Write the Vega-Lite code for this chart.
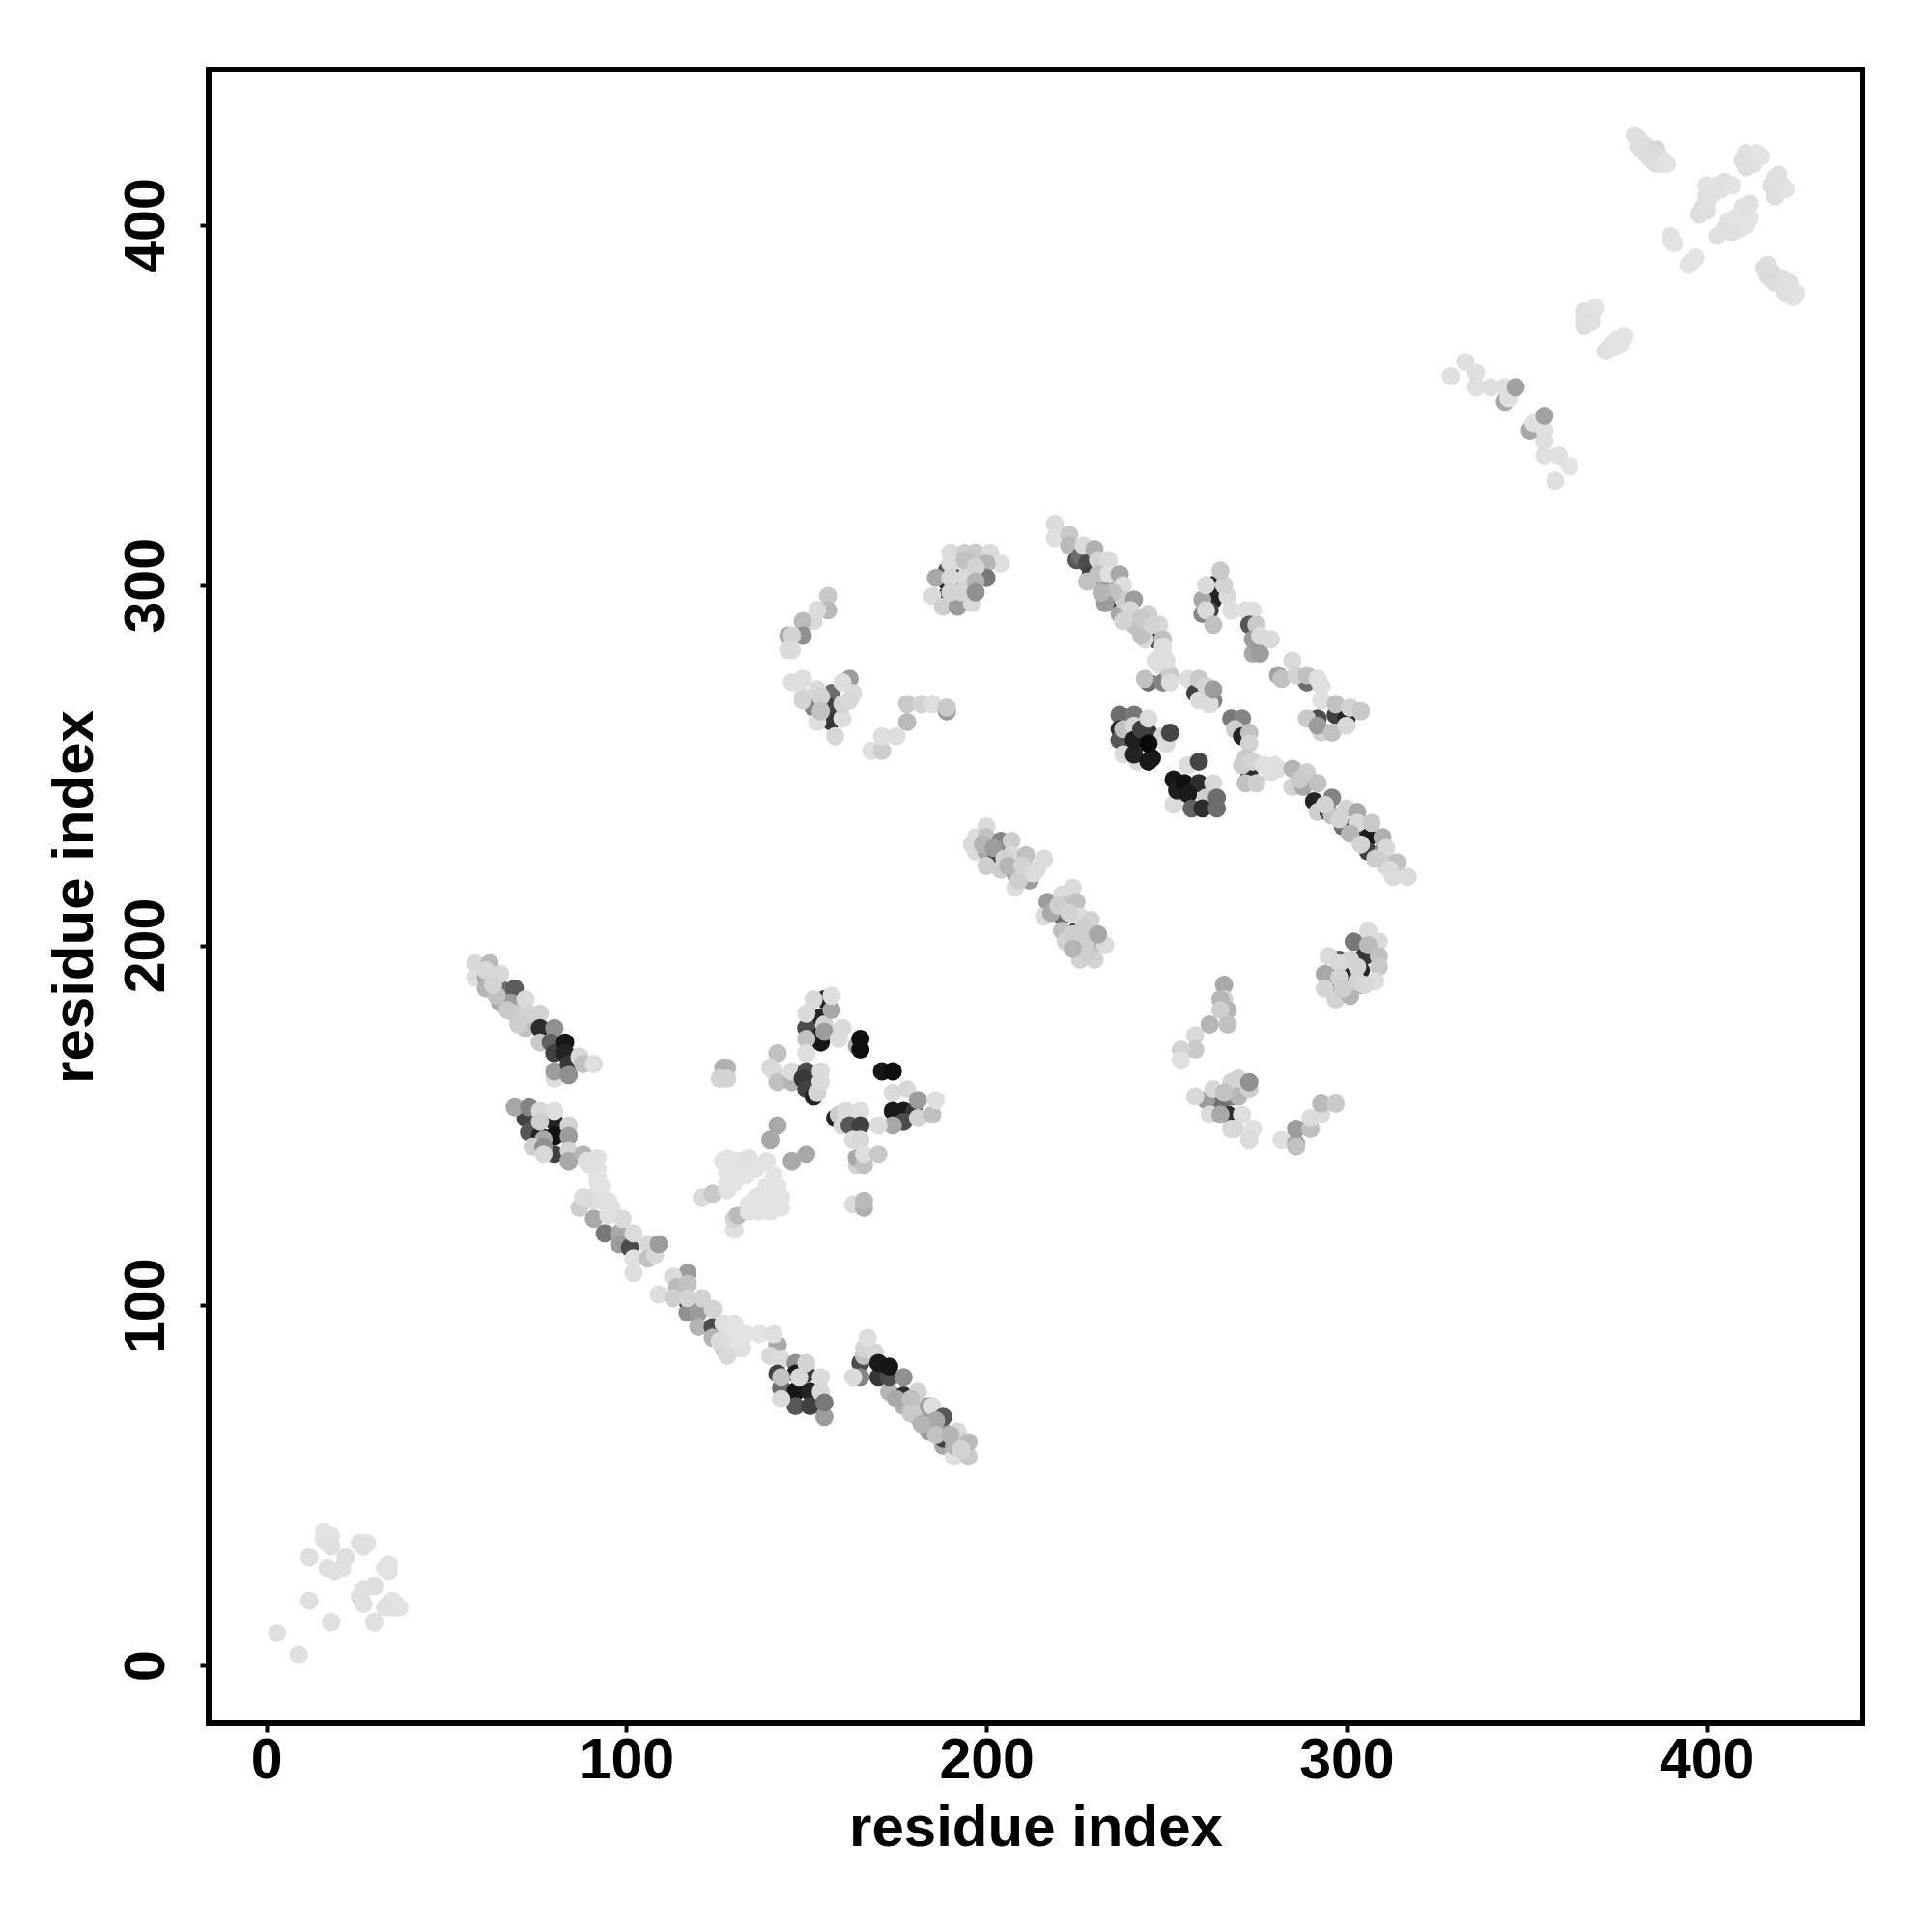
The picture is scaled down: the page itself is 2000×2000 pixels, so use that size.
{"$schema":"https://vega.github.io/schema/vega-lite/v6.json","width":1712,"height":1712,"autosize":{"type":"none"},"padding":{"left":216,"top":72,"right":72,"bottom":216},"background":"white","config":{"view":{"stroke":"#000000","strokeWidth":6,"fill":"white"},"axis":{"grid":false,"domain":false,"ticks":true,"tickColor":"#000","tickWidth":4,"tickSize":9,"labelFont":"Liberation Sans","labelFontWeight":"bold","labelFontSize":59,"labelColor":"#000","titleFont":"Liberation Sans","titleFontWeight":"bold","titleFontSize":60,"titleColor":"#000"}},"data":{"values":[{"i":3,"j":9,"score":3},{"i":9,"j":3,"score":3},{"i":12,"j":30,"score":3},{"i":12,"j":18,"score":3},{"i":18,"j":12,"score":3},{"i":30,"j":12,"score":3},{"i":17,"j":36,"score":2},{"i":16,"j":35,"score":2},{"i":18,"j":36,"score":2},{"i":17,"j":34,"score":3},{"i":22,"j":30,"score":4},{"i":17,"j":27,"score":3},{"i":19,"j":26,"score":3},{"i":21,"j":27,"score":3},{"i":26,"j":34,"score":3},{"i":28,"j":34,"score":2},{"i":27,"j":33,"score":3},{"i":34,"j":28,"score":2},{"i":34,"j":26,"score":3},{"i":33,"j":27,"score":2},{"i":30,"j":22,"score":4},{"i":27,"j":21,"score":3},{"i":26,"j":19,"score":3},{"i":27,"j":17,"score":3},{"i":36,"j":17,"score":2},{"i":34,"j":17,"score":3},{"i":35,"j":16,"score":3},{"i":329,"j":358,"score":3},{"i":333,"j":362,"score":3},{"i":336,"j":359,"score":3},{"i":336,"j":355,"score":3},{"i":340,"j":355,"score":4},{"i":344,"j":351,"score":25},{"i":344,"j":355,"score":3},{"i":345,"j":352,"score":3},{"i":347,"j":355,"score":28},{"i":351,"j":343,"score":25},{"i":352,"j":345,"score":3},{"i":355,"j":343,"score":3},{"i":355,"j":347,"score":28},{"i":355,"j":340,"score":4},{"i":355,"j":336,"score":3},{"i":359,"j":336,"score":3},{"i":362,"j":333,"score":2},{"i":358,"j":329,"score":3},{"i":367,"j":374,"score":3},{"i":366,"j":376,"score":3},{"i":369,"j":377,"score":2},{"i":366,"j":372,"score":4},{"i":368,"j":375,"score":2},{"i":373,"j":366,"score":3},{"i":375,"j":368,"score":2},{"i":377,"j":369,"score":2},{"i":374,"j":366,"score":2},{"i":380,"j":425,"score":3},{"i":381,"j":424,"score":4},{"i":383,"j":422,"score":4},{"i":383,"j":420,"score":5},{"i":384,"j":421,"score":4},{"i":386,"j":421,"score":7},{"i":387,"j":419,"score":4},{"i":385,"j":418,"score":5},{"i":388,"j":418,"score":2},{"i":390,"j":396,"score":2},{"i":396,"j":390,"score":2},{"i":400,"j":411,"score":2},{"i":403,"j":411,"score":2},{"i":405,"j":412,"score":3},{"i":399,"j":405,"score":4},{"i":400,"j":406,"score":3},{"i":401,"j":409,"score":2},{"i":411,"j":420,"score":3},{"i":414,"j":420,"score":2},{"i":410,"j":418,"score":4},{"i":412,"j":418,"score":3},{"i":420,"j":414,"score":3},{"i":421,"j":411,"score":2},{"i":418,"j":411,"score":3},{"i":419,"j":410,"score":4},{"i":412,"j":406,"score":3},{"i":411,"j":403,"score":2},{"i":411,"j":400,"score":2},{"i":406,"j":401,"score":2},{"i":405,"j":399,"score":3},{"i":409,"j":399,"score":2},{"i":417,"j":389,"score":3},{"i":418,"j":387,"score":4},{"i":420,"j":384,"score":5},{"i":421,"j":383,"score":5},{"i":423,"j":382,"score":2},{"i":425,"j":381,"score":2},{"i":419,"j":384,"score":4},{"i":417,"j":386,"score":5},{"i":219,"j":317,"score":5},{"i":219,"j":313,"score":3},{"i":223,"j":314,"score":12},{"i":223,"j":311,"score":18},{"i":225,"j":307,"score":60},{"i":226,"j":308,"score":50},{"i":228,"j":306,"score":65},{"i":229,"j":303,"score":70},{"i":233,"j":300,"score":35},{"i":236,"j":296,"score":85},{"i":237,"j":292,"score":25},{"i":240,"j":292,"score":90},{"i":241,"j":289,"score":15},{"i":247,"j":285,"score":70},{"i":227,"j":311,"score":5},{"i":230,"j":310,"score":22},{"i":231,"j":307,"score":8},{"i":234,"j":307,"score":5},{"i":231,"j":303,"score":15},{"i":234,"j":303,"score":3},{"i":237,"j":303,"score":25},{"i":238,"j":300,"score":4},{"i":238,"j":296,"score":10},{"i":241,"j":296,"score":30},{"i":240,"j":293,"score":6},{"i":245,"j":292,"score":10},{"i":248,"j":289,"score":6},{"i":244,"j":288,"score":15},{"i":244,"j":285,"score":5},{"i":249,"j":285,"score":15},{"i":249,"j":281,"score":3},{"i":248,"j":278,"score":4},{"i":250,"j":277,"score":5},{"i":245,"j":273,"score":50},{"i":249,"j":273,"score":40},{"i":244,"j":274,"score":15},{"i":251,"j":275,"score":12},{"i":251,"j":273,"score":5},{"i":256,"j":274,"score":4},{"i":258,"j":270,"score":70},{"i":259,"j":274,"score":12},{"i":259,"j":268,"score":5},{"i":261,"j":272,"score":8},{"i":263,"j":268,"score":40},{"i":262,"j":267,"score":5},{"i":263,"j":271,"score":30},{"i":263,"j":300,"score":85},{"i":263,"j":296,"score":85},{"i":262,"j":293,"score":70},{"i":260,"j":292,"score":40},{"i":260,"j":296,"score":25},{"i":261,"j":300,"score":5},{"i":261,"j":293,"score":5},{"i":263,"j":289,"score":15},{"i":267,"j":297,"score":5},{"i":266,"j":300,"score":8},{"i":265,"j":304,"score":12},{"i":268,"j":293,"score":4},{"i":272,"j":293,"score":3},{"i":274,"j":293,"score":3},{"i":273,"j":289,"score":60},{"i":275,"j":289,"score":12},{"i":274,"j":281,"score":25},{"i":276,"j":281,"score":30},{"i":274,"j":285,"score":30},{"i":276,"j":286,"score":5},{"i":279,"j":285,"score":5},{"i":281,"j":275,"score":28},{"i":282,"j":274,"score":15},{"i":289,"j":273,"score":50},{"i":285,"j":279,"score":5},{"i":286,"j":275,"score":8},{"i":289,"j":275,"score":15},{"i":292,"j":274,"score":3},{"i":293,"j":272,"score":3},{"i":293,"j":268,"score":3},{"i":292,"j":263,"score":65},{"i":297,"j":264,"score":70},{"i":300,"j":263,"score":85},{"i":289,"j":263,"score":12},{"i":297,"j":267,"score":15},{"i":301,"j":266,"score":8},{"i":304,"j":265,"score":12},{"i":293,"j":259,"score":8},{"i":292,"j":261,"score":30},{"i":296,"j":259,"score":15},{"i":300,"j":261,"score":6},{"i":237,"j":264,"score":50},{"i":241,"j":264,"score":45},{"i":237,"j":260,"score":80},{"i":237,"j":257,"score":60},{"i":238,"j":253,"score":5},{"i":242,"j":251,"score":5},{"i":238,"j":260,"score":15},{"i":241,"j":261,"score":6},{"i":242,"j":256,"score":12},{"i":241,"j":253,"score":85},{"i":245,"j":251,"score":92},{"i":246,"j":252,"score":90},{"i":241,"j":257,"score":88},{"i":245,"j":259,"score":75},{"i":243,"j":260,"score":70},{"i":245,"j":263,"score":5},{"i":249,"j":258,"score":8},{"i":250,"j":256,"score":5},{"i":245,"j":256,"score":97},{"i":251,"j":259,"score":68},{"i":256,"j":250,"score":5},{"i":259,"j":251,"score":68},{"i":253,"j":243,"score":5},{"i":252,"j":239,"score":5},{"i":252,"j":246,"score":92},{"i":253,"j":243,"score":88},{"i":255,"j":245,"score":95},{"i":259,"j":245,"score":80},{"i":256,"j":242,"score":90},{"i":257,"j":238,"score":55},{"i":263,"j":245,"score":6},{"i":261,"j":241,"score":10},{"i":260,"j":238,"score":80},{"i":264,"j":241,"score":50},{"i":264,"j":238,"score":50},{"i":268,"j":263,"score":45},{"i":271,"j":263,"score":40},{"i":269,"j":260,"score":10},{"i":271,"j":258,"score":85},{"i":273,"j":259,"score":15},{"i":273,"j":256,"score":8},{"i":272,"j":252,"score":12},{"i":273,"j":248,"score":80},{"i":271,"j":250,"score":10},{"i":274,"j":251,"score":8},{"i":272,"j":245,"score":15},{"i":275,"j":245,"score":10},{"i":277,"j":250,"score":4},{"i":281,"j":249,"score":3},{"i":285,"j":244,"score":8},{"i":285,"j":249,"score":20},{"i":288,"j":244,"score":25},{"i":289,"j":248,"score":10},{"i":291,"j":240,"score":85},{"i":292,"j":245,"score":15},{"i":292,"j":237,"score":10},{"i":295,"j":237,"score":70},{"i":296,"j":241,"score":40},{"i":299,"j":233,"score":50},{"i":302,"j":233,"score":85},{"i":300,"j":238,"score":8},{"i":303,"j":237,"score":25},{"i":306,"j":230,"score":90},{"i":303,"j":234,"score":6},{"i":307,"j":234,"score":12},{"i":306,"j":226,"score":70},{"i":310,"j":230,"score":22},{"i":310,"j":226,"score":40},{"i":311,"j":227,"score":6},{"i":311,"j":222,"score":8},{"i":314,"j":223,"score":15},{"i":313,"j":219,"score":5},{"i":317,"j":219,"score":5},{"i":197,"j":230,"score":4},{"i":197,"j":226,"score":5},{"i":200,"j":226,"score":25},{"i":203,"j":225,"score":70},{"i":208,"j":223,"score":90},{"i":200,"j":233,"score":5},{"i":200,"j":230,"score":15},{"i":200,"j":222,"score":10},{"i":204,"j":229,"score":40},{"i":204,"j":221,"score":10},{"i":207,"j":229,"score":10},{"i":207,"j":225,"score":6},{"i":208,"j":220,"score":30},{"i":208,"j":216,"score":4},{"i":211,"j":225,"score":15},{"i":212,"j":218,"score":30},{"i":211,"j":220,"score":15},{"i":214,"j":221,"score":4},{"i":216,"j":224,"score":5},{"i":217,"j":212,"score":30},{"i":216,"j":208,"score":5},{"i":221,"j":214,"score":5},{"i":224,"j":216,"score":5},{"i":221,"j":208,"score":50},{"i":225,"j":204,"score":70},{"i":222,"j":211,"score":15},{"i":225,"j":212,"score":15},{"i":226,"j":208,"score":5},{"i":221,"j":204,"score":15},{"i":222,"j":201,"score":8},{"i":226,"j":200,"score":30},{"i":229,"j":204,"score":40},{"i":229,"j":207,"score":8},{"i":230,"j":200,"score":20},{"i":226,"j":196,"score":8},{"i":230,"j":196,"score":8},{"i":233,"j":200,"score":5},{"i":189,"j":304,"score":60},{"i":189,"j":301,"score":85},{"i":189,"j":297,"score":85},{"i":192,"j":304,"score":80},{"i":192,"j":301,"score":90},{"i":192,"j":298,"score":85},{"i":196,"j":305,"score":90},{"i":196,"j":301,"score":90},{"i":196,"j":298,"score":60},{"i":186,"j":302,"score":25},{"i":185,"j":297,"score":5},{"i":188,"j":294,"score":10},{"i":192,"j":294,"score":30},{"i":196,"j":295,"score":6},{"i":190,"j":309,"score":5},{"i":194,"j":309,"score":10},{"i":197,"j":309,"score":12},{"i":201,"j":309,"score":5},{"i":204,"j":306,"score":4},{"i":200,"j":306,"score":20},{"i":200,"j":302,"score":45},{"i":190,"j":306,"score":5},{"i":190,"j":302,"score":6},{"i":190,"j":298,"score":8},{"i":194,"j":306,"score":5},{"i":194,"j":302,"score":6},{"i":193,"j":298,"score":8},{"i":194,"j":307,"score":15},{"i":197,"j":305,"score":8},{"i":197,"j":301,"score":20},{"i":197,"j":298,"score":35},{"i":156,"j":297,"score":12},{"i":156,"j":293,"score":18},{"i":153,"j":293,"score":5},{"i":152,"j":290,"score":5},{"i":149,"j":290,"score":18},{"i":149,"j":286,"score":35},{"i":145,"j":286,"score":25},{"i":146,"j":286,"score":8},{"i":146,"j":282,"score":5},{"i":145,"j":282,"score":5},{"i":157,"j":270,"score":50},{"i":157,"j":266,"score":70},{"i":157,"j":262,"score":75},{"i":152,"j":266,"score":40},{"i":146,"j":273,"score":4},{"i":149,"j":274,"score":4},{"i":149,"j":269,"score":5},{"i":149,"j":268,"score":8},{"i":153,"j":271,"score":5},{"i":153,"j":262,"score":4},{"i":154,"j":269,"score":8},{"i":154,"j":265,"score":15},{"i":158,"j":258,"score":6},{"i":160,"j":263,"score":4},{"i":162,"j":274,"score":30},{"i":160,"j":273,"score":4},{"i":160,"j":267,"score":8},{"i":163,"j":270,"score":5},{"i":162,"j":268,"score":6},{"i":168,"j":254,"score":3},{"i":171,"j":254,"score":10},{"i":171,"j":258,"score":4},{"i":175,"j":258,"score":4},{"i":178,"j":262,"score":18},{"i":178,"j":267,"score":12},{"i":182,"j":267,"score":8},{"i":185,"j":267,"score":4},{"i":189,"j":265,"score":30},{"i":189,"j":266,"score":12},{"i":297,"j":192,"score":90},{"i":297,"j":189,"score":85},{"i":301,"j":192,"score":85},{"i":301,"j":188,"score":90},{"i":304,"j":193,"score":85},{"i":298,"j":196,"score":60},{"i":305,"j":197,"score":75},{"i":304,"j":189,"score":30},{"i":306,"j":204,"score":5},{"i":309,"j":201,"score":5},{"i":302,"j":201,"score":45},{"i":306,"j":200,"score":18},{"i":309,"j":197,"score":15},{"i":309,"j":194,"score":12},{"i":308,"j":190,"score":4},{"i":295,"j":197,"score":5},{"i":294,"j":192,"score":25},{"i":294,"j":188,"score":8},{"i":297,"j":185,"score":8},{"i":301,"j":186,"score":20},{"i":301,"j":196,"score":8},{"i":298,"j":195,"score":6},{"i":298,"j":191,"score":8},{"i":299,"j":188,"score":10},{"i":303,"j":194,"score":8},{"i":303,"j":190,"score":8},{"i":305,"j":189,"score":6},{"i":266,"j":189,"score":25},{"i":266,"j":185,"score":8},{"i":265,"j":185,"score":20},{"i":267,"j":182,"score":20},{"i":265,"j":182,"score":10},{"i":262,"j":178,"score":20},{"i":267,"j":178,"score":15},{"i":258,"j":175,"score":6},{"i":258,"j":171,"score":12},{"i":254,"j":171,"score":8},{"i":254,"j":168,"score":3},{"i":267,"j":153,"score":80},{"i":265,"j":157,"score":50},{"i":261,"j":157,"score":30},{"i":258,"j":158,"score":6},{"i":263,"j":160,"score":6},{"i":262,"j":153,"score":5},{"i":265,"j":153,"score":25},{"i":268,"j":158,"score":45},{"i":268,"j":162,"score":8},{"i":270,"j":163,"score":8},{"i":270,"j":158,"score":20},{"i":266,"j":159,"score":15},{"i":273,"j":160,"score":10},{"i":273,"j":162,"score":35},{"i":271,"j":153,"score":4},{"i":268,"j":149,"score":6},{"i":269,"j":149,"score":6},{"i":274,"j":149,"score":3},{"i":273,"j":146,"score":5},{"i":282,"j":146,"score":3},{"i":286,"j":145,"score":25},{"i":286,"j":144,"score":15},{"i":286,"j":149,"score":30},{"i":290,"j":149,"score":15},{"i":290,"j":152,"score":5},{"i":293,"j":153,"score":5},{"i":293,"j":156,"score":18},{"i":297,"j":156,"score":12},{"i":58,"j":195,"score":6},{"i":58,"j":191,"score":4},{"i":62,"j":195,"score":18},{"i":61,"j":191,"score":25},{"i":61,"j":188,"score":20},{"i":65,"j":188,"score":50},{"i":65,"j":192,"score":6},{"i":69,"j":188,"score":58},{"i":65,"j":184,"score":25},{"i":68,"j":184,"score":30},{"i":72,"j":185,"score":5},{"i":69,"j":181,"score":10},{"i":72,"j":177,"score":15},{"i":73,"j":181,"score":8},{"i":76,"j":181,"score":8},{"i":76,"j":177,"score":80},{"i":80,"j":177,"score":35},{"i":76,"j":173,"score":12},{"i":79,"j":173,"score":55},{"i":80,"j":170,"score":70},{"i":83,"j":173,"score":92},{"i":83,"j":170,"score":85},{"i":80,"j":163,"score":4},{"i":80,"j":165,"score":30},{"i":84,"j":167,"score":75},{"i":84,"j":164,"score":35},{"i":87,"j":169,"score":6},{"i":88,"j":167,"score":15},{"i":91,"j":167,"score":4},{"i":72,"j":152,"score":70},{"i":73,"j":148,"score":60},{"i":76,"j":147,"score":85},{"i":80,"j":151,"score":85},{"i":80,"j":147,"score":95},{"i":80,"j":142,"score":70},{"i":69,"j":155,"score":25},{"i":73,"j":155,"score":40},{"i":76,"j":154,"score":6},{"i":80,"j":154,"score":4},{"i":76,"j":151,"score":10},{"i":77,"j":146,"score":25},{"i":74,"j":144,"score":10},{"i":77,"j":144,"score":35},{"i":77,"j":142,"score":6},{"i":84,"j":150,"score":8},{"i":84,"j":147,"score":30},{"i":84,"j":143,"score":8},{"i":84,"j":140,"score":25},{"i":88,"j":142,"score":20},{"i":89,"j":140,"score":3},{"i":92,"j":141,"score":3},{"i":92,"j":138,"score":3},{"i":92,"j":134,"score":2},{"i":92,"j":131,"score":2},{"i":87,"j":127,"score":10},{"i":88,"j":130,"score":5},{"i":91,"j":124,"score":25},{"i":91,"j":129,"score":5},{"i":95,"j":129,"score":3},{"i":95,"j":125,"score":3},{"i":94,"j":120,"score":45},{"i":98,"j":120,"score":25},{"i":98,"j":117,"score":30},{"i":99,"j":124,"score":5},{"i":101,"j":116,"score":65},{"i":102,"j":120,"score":5},{"i":102,"j":113,"score":3},{"i":106,"j":117,"score":6},{"i":106,"j":113,"score":15},{"i":108,"j":114,"score":6},{"i":109,"j":117,"score":30},{"i":102,"j":109,"score":4},{"i":117,"j":101,"score":80},{"i":117,"j":98,"score":35},{"i":117,"j":109,"score":30},{"i":113,"j":108,"score":5},{"i":114,"j":105,"score":18},{"i":117,"j":106,"score":15},{"i":109,"j":103,"score":4},{"i":113,"j":102,"score":10},{"i":117,"j":102,"score":8},{"i":120,"j":98,"score":30},{"i":121,"j":102,"score":8},{"i":120,"j":94,"score":20},{"i":124,"j":94,"score":65},{"i":124,"j":91,"score":20},{"i":124,"j":99,"score":8},{"i":127,"j":88,"score":10},{"i":127,"j":95,"score":3},{"i":130,"j":95,"score":2},{"i":130,"j":88,"score":3},{"i":128,"j":92,"score":3},{"i":133,"j":92,"score":2},{"i":137,"j":92,"score":2},{"i":142,"j":89,"score":25},{"i":141,"j":92,"score":3},{"i":140,"j":86,"score":6},{"i":143,"j":85,"score":5},{"i":142,"j":81,"score":70},{"i":143,"j":77,"score":50},{"i":147,"j":84,"score":35},{"i":147,"j":81,"score":90},{"i":147,"j":76,"score":92},{"i":147,"j":72,"score":60},{"i":151,"j":76,"score":85},{"i":150,"j":81,"score":75},{"i":143,"j":80,"score":15},{"i":143,"j":74,"score":5},{"i":148,"j":80,"score":6},{"i":151,"j":72,"score":70},{"i":150,"j":84,"score":8},{"i":154,"j":80,"score":5},{"i":154,"j":76,"score":6},{"i":155,"j":69,"score":30},{"i":155,"j":73,"score":45},{"i":165,"j":84,"score":65},{"i":165,"j":80,"score":40},{"i":163,"j":80,"score":5},{"i":166,"j":86,"score":15},{"i":166,"j":88,"score":8},{"i":169,"j":87,"score":6},{"i":167,"j":91,"score":4},{"i":170,"j":80,"score":75},{"i":170,"j":84,"score":90},{"i":173,"j":76,"score":20},{"i":173,"j":80,"score":65},{"i":173,"j":83,"score":92},{"i":177,"j":72,"score":22},{"i":177,"j":75,"score":80},{"i":177,"j":80,"score":35},{"i":181,"j":69,"score":15},{"i":181,"j":72,"score":12},{"i":181,"j":76,"score":8},{"i":184,"j":65,"score":30},{"i":184,"j":68,"score":30},{"i":184,"j":72,"score":30},{"i":185,"j":72,"score":4},{"i":188,"j":61,"score":25},{"i":188,"j":63,"score":70},{"i":188,"j":65,"score":30},{"i":188,"j":69,"score":60},{"i":191,"j":58,"score":4},{"i":191,"j":61,"score":20},{"i":192,"j":65,"score":6},{"i":195,"j":58,"score":12},{"i":195,"j":62,"score":18},{"i":150,"j":177,"score":65},{"i":154,"j":180,"score":85},{"i":155,"j":185,"score":85},{"i":154,"j":175,"score":85},{"i":154,"j":173,"score":92},{"i":150,"j":174,"score":15},{"i":150,"j":170,"score":4},{"i":152,"j":185,"score":6},{"i":150,"j":181,"score":5},{"i":155,"j":178,"score":8},{"i":155,"j":176,"score":30},{"i":157,"j":182,"score":25},{"i":157,"j":186,"score":4},{"i":160,"j":177,"score":5},{"i":159,"j":174,"score":5},{"i":164,"j":172,"score":25},{"i":165,"j":171,"score":96},{"i":165,"j":174,"score":95},{"i":171,"j":165,"score":92},{"i":174,"j":165,"score":96},{"i":174,"j":159,"score":5},{"i":178,"j":160,"score":6},{"i":174,"j":154,"score":90},{"i":177,"j":154,"score":90},{"i":180,"j":154,"score":75},{"i":177,"j":151,"score":65},{"i":174,"j":150,"score":25},{"i":170,"j":150,"score":5},{"i":181,"j":157,"score":30},{"i":181,"j":152,"score":8},{"i":185,"j":153,"score":15},{"i":186,"j":157,"score":3},{"i":142,"j":170,"score":15},{"i":140,"j":166,"score":6},{"i":141,"j":165,"score":5},{"i":142,"j":162,"score":15},{"i":146,"j":162,"score":20},{"i":146,"j":165,"score":5},{"i":150,"j":165,"score":65},{"i":149,"j":163,"score":75},{"i":150,"j":160,"score":70},{"i":152,"j":158,"score":85},{"i":153,"j":159,"score":8},{"i":154,"j":162,"score":5},{"i":154,"j":165,"score":5},{"i":128,"j":166,"score":20},{"i":127,"j":166,"score":22},{"i":128,"j":163,"score":8},{"i":126,"j":163,"score":8},{"i":158,"j":152,"score":85},{"i":159,"j":153,"score":10},{"i":161,"j":154,"score":5},{"i":165,"j":154,"score":4},{"i":160,"j":150,"score":6},{"i":162,"j":150,"score":60},{"i":165,"j":150,"score":70},{"i":163,"j":146,"score":4},{"i":165,"j":146,"score":6},{"i":164,"j":139,"score":8},{"i":164,"j":141,"score":25},{"i":166,"j":139,"score":15},{"i":166,"j":142,"score":4},{"i":170,"j":142,"score":12},{"i":163,"j":128,"score":5},{"i":166,"j":127,"score":22},{"i":166,"j":129,"score":18},{"i":140,"j":146,"score":25},{"i":142,"j":150,"score":25},{"i":146,"j":140,"score":25},{"i":150,"j":142,"score":25},{"i":121,"j":130,"score":5},{"i":124,"j":131,"score":12},{"i":128,"j":132,"score":3},{"i":128,"j":134,"score":2},{"i":128,"j":137,"score":2},{"i":128,"j":141,"score":2},{"i":131,"j":140,"score":2},{"i":132,"j":138,"score":2},{"i":134,"j":141,"score":3},{"i":130,"j":121,"score":3},{"i":130,"j":124,"score":8},{"i":131,"j":125,"score":18},{"i":134,"j":128,"score":2},{"i":136,"j":128,"score":2},{"i":138,"j":128,"score":2},{"i":138,"j":131,"score":2},{"i":141,"j":128,"score":2},{"i":141,"j":131,"score":2},{"i":141,"j":134,"score":2},{"i":381,"j":422,"score":4},{"i":382,"j":421,"score":4},{"i":384,"j":419,"score":4},{"i":385,"j":420,"score":5},{"i":386,"j":417,"score":4},{"i":387,"j":417,"score":3},{"i":389,"j":417,"score":2},{"i":390,"j":397,"score":2},{"i":391,"j":395,"score":2},{"i":397,"j":391,"score":2},{"i":395,"j":389,"score":2},{"i":400,"j":408,"score":3},{"i":398,"j":403,"score":4},{"i":400,"j":404,"score":3},{"i":402,"j":409,"score":2},{"i":404,"j":410,"score":3},{"i":407,"j":411,"score":2},{"i":411,"j":416,"score":4},{"i":413,"j":417,"score":3},{"i":415,"j":419,"score":2},{"i":419,"j":408,"score":4},{"i":422,"j":410,"score":2},{"i":419,"j":413,"score":3},{"i":410,"j":405,"score":3},{"i":412,"j":402,"score":2},{"i":407,"j":398,"score":3},{"i":403,"j":397,"score":3},{"i":408,"j":402,"score":2},{"i":416,"j":388,"score":4},{"i":418,"j":385,"score":5},{"i":419,"j":386,"score":5},{"i":421,"j":385,"score":4},{"i":423,"j":384,"score":3},{"i":424,"j":380,"score":2},{"i":422,"j":381,"score":3},{"i":368,"j":373,"score":3},{"i":366,"j":374,"score":3},{"i":372,"j":365,"score":3},{"i":374,"j":367,"score":2},{"i":376,"j":367,"score":2},{"i":18,"j":33,"score":3},{"i":16,"j":37,"score":2},{"i":35,"j":18,"score":2},{"i":37,"j":16,"score":2},{"i":33,"j":16,"score":3},{"i":130,"j":137,"score":2},{"i":130,"j":134,"score":2},{"i":133,"j":136,"score":2},{"i":136,"j":138,"score":2},{"i":127,"j":140,"score":2},{"i":139,"j":140,"score":2},{"i":129,"j":139,"score":2},{"i":136,"j":130,"score":2},{"i":139,"j":133,"score":2},{"i":140,"j":126,"score":2},{"i":137,"j":126,"score":2},{"i":134,"j":126,"score":2},{"i":143,"j":130,"score":2},{"i":143,"j":127,"score":2},{"i":141,"j":136,"score":2},{"i":142,"j":133,"score":2},{"i":139,"j":128,"score":2},{"i":92,"j":136,"score":2},{"i":93,"j":133,"score":2},{"i":90,"j":139,"score":3},{"i":93,"j":129,"score":3},{"i":96,"j":127,"score":3},{"i":130,"j":93,"score":2},{"i":132,"j":88,"score":3},{"i":131,"j":91,"score":2},{"i":126,"j":90,"score":5},{"i":128,"j":86,"score":6},{"i":250,"j":279,"score":4},{"i":249,"j":283,"score":4},{"i":247,"j":279,"score":4},{"i":280,"j":250,"score":3},{"i":279,"j":248,"score":4},{"i":64,"j":186,"score":15},{"i":67,"j":182,"score":12},{"i":70,"j":178,"score":10},{"i":63,"j":189,"score":8},{"i":61,"j":193,"score":6},{"i":196,"j":228,"score":5},{"i":199,"j":228,"score":20},{"i":202,"j":227,"score":30},{"i":205,"j":224,"score":8},{"i":206,"j":222,"score":20},{"i":209,"j":218,"score":10},{"i":210,"j":222,"score":8},{"i":213,"j":220,"score":5},{"i":218,"j":209,"score":25},{"i":220,"j":211,"score":10},{"i":223,"j":209,"score":8},{"i":224,"j":203,"score":10},{"i":227,"j":205,"score":10},{"i":228,"j":202,"score":10},{"i":228,"j":198,"score":10},{"i":224,"j":199,"score":20},{"i":231,"j":203,"score":25},{"i":238,"j":290,"score":8},{"i":243,"j":291,"score":12},{"i":235,"j":298,"score":15},{"i":233,"j":295,"score":30},{"i":228,"j":301,"score":15},{"i":232,"j":298,"score":20},{"i":243,"j":286,"score":15},{"i":246,"j":289,"score":8},{"i":296,"j":236,"score":15},{"i":298,"j":235,"score":8},{"i":301,"j":231,"score":20},{"i":304,"j":228,"score":8},{"i":308,"j":224,"score":10},{"i":312,"j":221,"score":5},{"i":287,"j":246,"score":12},{"i":294,"j":239,"score":8},{"i":175,"j":74,"score":25},{"i":179,"j":74,"score":15},{"i":179,"j":70,"score":12},{"i":186,"j":68,"score":25},{"i":186,"j":64,"score":15},{"i":190,"j":64,"score":20},{"i":193,"j":60,"score":8},{"i":182,"j":67,"score":20}]},"mark":{"type":"point","shape":"circle","filled":true,"opacity":1,"size":360},"encoding":{"x":{"field":"i","type":"quantitative","scale":{"domain":[-16,443.3],"nice":false,"zero":false},"axis":{"values":[0,100,200,300,400],"title":"residue index","labelPadding":0,"titlePadding":11}},"y":{"field":"j","type":"quantitative","scale":{"domain":[-16.1,443.2],"nice":false,"zero":false},"axis":{"values":[0,100,200,300,400],"title":"residue index","labelAngle":-90,"labelAlign":"center","labelBaseline":"bottom","labelPadding":26,"titlePadding":14}},"color":{"field":"score","type":"quantitative","legend":null,"scale":{"domain":[0,100],"range":["#e8e8e8","#000000"]}}}}
